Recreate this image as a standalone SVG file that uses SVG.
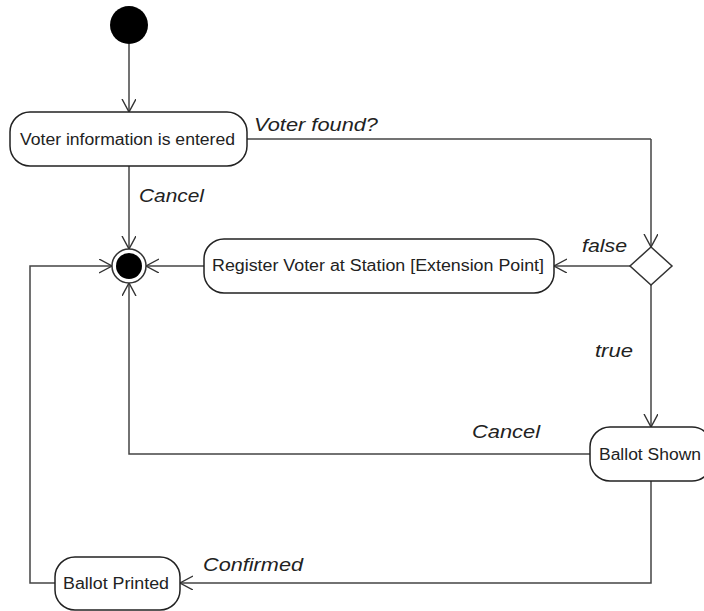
<svg xmlns="http://www.w3.org/2000/svg" width="704" height="611" viewBox="0 0 704 611">
  <defs>
    <marker id="open" markerWidth="16" markerHeight="16" refX="13" refY="7" orient="auto" markerUnits="userSpaceOnUse">
      <path d="M0,0 L13,7 L0,14" fill="none" stroke="#333" stroke-width="1.4"/>
    </marker>
    <style>
      .edge { fill: none; stroke: #444; stroke-width: 1.5; marker-end: url(#open); }
      .line { fill: none; stroke: #444; stroke-width: 1.5; }
      .box { fill: #fff; stroke: #222; stroke-width: 1.5; }
      .txt { font-family: "Liberation Sans", Arial, sans-serif; font-size: 16px; fill: #222; }
      .lbl { font-family: "Liberation Sans", Arial, sans-serif; font-size: 18px; font-style: italic; fill: #222; }
    </style>
  </defs>
  <rect width="704" height="611" fill="#fff"/>

  <g id="connectors">
    <path class="edge" d="M129,44 L129,112"/>
    <path class="line" d="M247,139 L651,139"/>
    <path class="edge" d="M651,139 L651,247"/>
    <path class="edge" d="M129,166 L129,249"/>
    <path class="edge" d="M630,266 L554,266"/>
    <path class="edge" d="M204,266 L146,266"/>
    <path class="edge" d="M651,285 L651,427"/>
    <path class="edge" d="M590,454 L129,454 L129,283"/>
    <path class="edge" d="M651,481 L651,583 L180,583"/>
    <path class="edge" d="M55,583 L30,583 L30,266 L112,266"/>
    <text class="lbl" x="254" y="131" textLength="124" lengthAdjust="spacingAndGlyphs">Voter found?</text>
    <text class="lbl" x="139" y="202" textLength="65" lengthAdjust="spacingAndGlyphs">Cancel</text>
    <text class="lbl" x="582" y="252" textLength="45" lengthAdjust="spacingAndGlyphs">false</text>
    <text class="lbl" x="595" y="357" textLength="38" lengthAdjust="spacingAndGlyphs">true</text>
    <text class="lbl" x="472" y="438" textLength="68" lengthAdjust="spacingAndGlyphs">Cancel</text>
    <text class="lbl" x="203" y="571" textLength="100" lengthAdjust="spacingAndGlyphs">Confirmed</text>
  </g>

  <g id="start">
    <circle cx="129" cy="25" r="19" fill="#000"/>
  </g>

  <g id="voter-info">
    <rect class="box" x="10" y="112" width="237" height="54" rx="20"/>
    <text class="txt" x="20" y="144.5" textLength="215" lengthAdjust="spacingAndGlyphs">Voter information is entered</text>
  </g>

  <g id="decision">
    <path d="M651,247 L672,266 L651,285 L630,266 Z" fill="#fff" stroke="#333" stroke-width="1.5"/>
  </g>

  <g id="register">
    <rect class="box" x="204" y="239" width="350" height="54" rx="20"/>
    <text class="txt" x="212" y="271" textLength="332" lengthAdjust="spacingAndGlyphs">Register Voter at Station [Extension Point]</text>
  </g>

  <g id="final">
    <circle cx="129" cy="266" r="17" fill="#fff" stroke="#333" stroke-width="1.5"/>
    <circle cx="129" cy="266" r="13" fill="#000"/>
  </g>

  <g id="ballot-shown">
    <rect class="box" x="590" y="427" width="122" height="54" rx="20"/>
    <text class="txt" x="599" y="459.5" textLength="102" lengthAdjust="spacingAndGlyphs">Ballot Shown</text>
  </g>

  <g id="ballot-printed">
    <rect class="box" x="55" y="557" width="125" height="53" rx="20"/>
    <text class="txt" x="63" y="589" textLength="106" lengthAdjust="spacingAndGlyphs">Ballot Printed</text>
  </g>
</svg>
